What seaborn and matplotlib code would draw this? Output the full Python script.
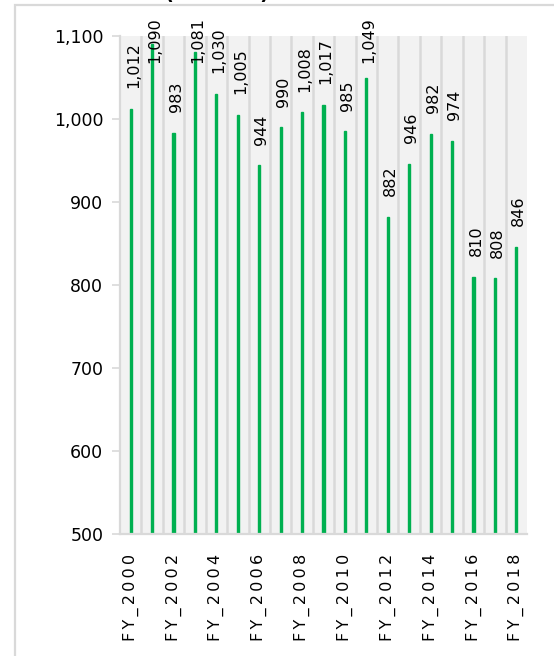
import matplotlib
matplotlib.use("Agg")
import matplotlib.pyplot as plt
import matplotlib.patches as mpatches
import matplotlib.ticker as mticker
import pandas as pd
import seaborn as sns

years = ["FY_" + str(y) for y in range(2000, 2019)]
values = [1012, 1090, 983, 1081, 1030, 1005, 944, 990, 1008, 1017,
          985, 1049, 882, 946, 982, 974, 810, 808, 846]
yticks = [500, 600, 700, 800, 900, 1000, 1100]
title = "(Number)"

df = pd.DataFrame({"year": years, "value": values})

sns.set_style("white")
plt.rcParams["font.family"] = ["DejaVu Sans"]
plt.rcParams["text.color"] = "black"
plt.rcParams["xtick.color"] = "black"
plt.rcParams["ytick.color"] = "black"

fig = plt.figure(figsize=(5.54, 6.56), dpi=100)
ax = fig.add_axes([120 / 554, 122 / 656, 407 / 554, 498 / 656])

sns.barplot(data=df, x="year", y="value", color="#00b050", width=0.1,
            saturation=1, edgecolor="#00b050", linewidth=1.0, ax=ax)

ax.set_facecolor("#f2f2f2")
ax.set_ylim(500, 1100)
ax.set_xlim(-0.5, len(years) - 0.5)
ax.set_yticks(yticks)
ax.yaxis.set_major_formatter(mticker.StrMethodFormatter("{x:,.0f}"))
ax.tick_params(axis="y", length=6, width=1.2, color="#d9d9d9",
               labelcolor="black", labelsize=12.5, pad=6, left=True)

# labels on every other year, letter spaced
ax.set_xticks(range(0, len(years), 2))
ax.set_xticklabels(["\u2009".join(years[i]) for i in range(0, len(years), 2)],
                   rotation=90, fontsize=11.5, va="top")
ax.tick_params(axis="x", length=0, pad=14, labelcolor="black")

# vertical grid between categories
ax.set_xticks([i + 0.5 for i in range(len(years) - 1)], minor=True)
ax.grid(axis="x", which="minor", color="#d9d9d9", lw=1.8)
ax.grid(axis="x", which="major", visible=False)
ax.grid(axis="y", visible=False)
ax.tick_params(axis="x", which="minor", length=0)
ax.set_axisbelow(True)

for s in ["top", "right"]:
    ax.spines[s].set_visible(False)
for s in ["left", "bottom"]:
    ax.spines[s].set_color("#d9d9d9")
    ax.spines[s].set_linewidth(1.6)

ax.set_xlabel("")
ax.set_ylabel("")

# data labels
for i, v in enumerate(values):
    ax.text(i + 0.12, min(v + 25, 1068), f"{v:,}", rotation=90, ha="center",
            va="bottom", fontsize=11.5, color="black", clip_on=False)

# outer chart frame and cut title
fig.patches.append(mpatches.Rectangle((15 / 554, -0.1), 1.0, 1.1 - 5 / 656,
                                      transform=fig.transFigure, fill=False,
                                      edgecolor="#d9d9d9", lw=1.6))
fig.text(217 / 554, 1 + 1 / 656, title, ha="center", va="baseline",
         fontsize=14, fontweight="bold", color="black")

fig.savefig("out.png", dpi=100)
